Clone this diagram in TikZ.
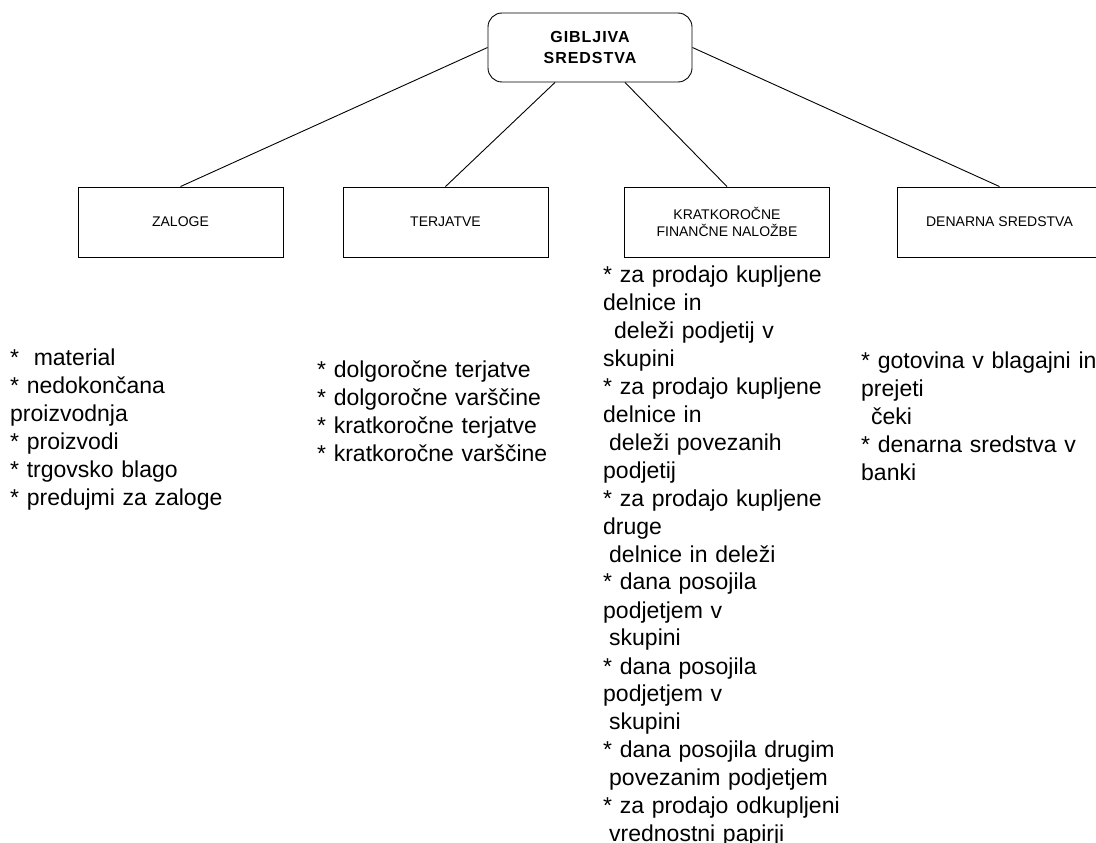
\documentclass[tikz,border=0pt]{standalone}
\usepackage{fontspec}
\setmainfont{Liberation Sans}
\usetikzlibrary{calc}
\begin{document}
\begin{tikzpicture}[x=1pt,y=-1pt,
  link/.style={draw=black, line width=0.9pt},
  rootbox/.style={draw, line width=0.9pt, rounded corners=14pt,
    minimum width=204pt, minimum height=69pt, align=center, inner sep=0pt,
    font=\fontsize{16}{21.3}\selectfont\bfseries\addfontfeature{LetterSpace=6}},
  catbox/.style={draw, line width=0.9pt, minimum width=205pt,
    minimum height=70pt, align=center, inner sep=0pt,
    font=\fontsize{14}{17.5}\selectfont},
  itemlist/.style={anchor=base west, text width=300pt, align=left,
    inner sep=0pt, font=\fontsize{23}{28}\selectfont}
]
\clip (0,0) rectangle (1096,843);

% root and category boxes
\node[rootbox] (root) at (590,47.5) {GIBLJIVA\\SREDSTVA};
\node[catbox] (zal) at (180.5,222) {ZALOGE};
\node[catbox] (ter) at (445.5,222) {TERJATVE};
\node[catbox] (kfn) at (727,222) {KRATKOROČNE\\FINANČNE NALOŽBE};
\node[catbox] (den) at (999.5,222) {DENARNA SREDSTVA};

% connectors
\draw[link] (root.west) -- (zal.north);
\draw[link] ($(root.south)+(-35,0)$) -- (ter.north);
\draw[link] ($(root.south)+(35,0)$) -- (kfn.north);
\draw[link] (root.east) -- (den.north);

% item lists ({} keeps a leading * from being read as \\*)
\node[itemlist] (zalitems) at (10,365) {%
*\hspace*{7pt} material\\
{}* nedokončana\\
proizvodnja\\
{}* proizvodi\\
{}* trgovsko blago\\
{}* predujmi za zaloge};

\node[itemlist] (teritems) at (317,377) {%
* dolgoročne terjatve\\
{}* dolgoročne varščine\\
{}* kratkoročne terjatve\\
{}* kratkoročne varščine};

\node[itemlist] (kfnitems) at (603,282) {%
* za prodajo kupljene\\
delnice in\\
\hspace*{11pt}deleži podjetij v\\
skupini\\
{}* za prodajo kupljene\\
delnice in\\
\hspace*{6pt}deleži povezanih\\
podjetij\\
{}* za prodajo kupljene\\
druge\\
\hspace*{6pt}delnice in deleži\\
{}* dana posojila\\
podjetjem v\\
\hspace*{6pt}skupini\\
{}* dana posojila\\
podjetjem v\\
\hspace*{6pt}skupini\\
{}* dana posojila drugim\\
\hspace*{6pt}povezanim podjetjem\\
{}* za prodajo odkupljeni\\
\hspace*{6pt}vrednostni papirji};

\node[itemlist] (denitems) at (861,368) {%
* gotovina v blagajni in\\
prejeti\\
\hspace*{10pt}čeki\\
{}* denarna sredstva v\\
banki};
\end{tikzpicture}
\end{document}
